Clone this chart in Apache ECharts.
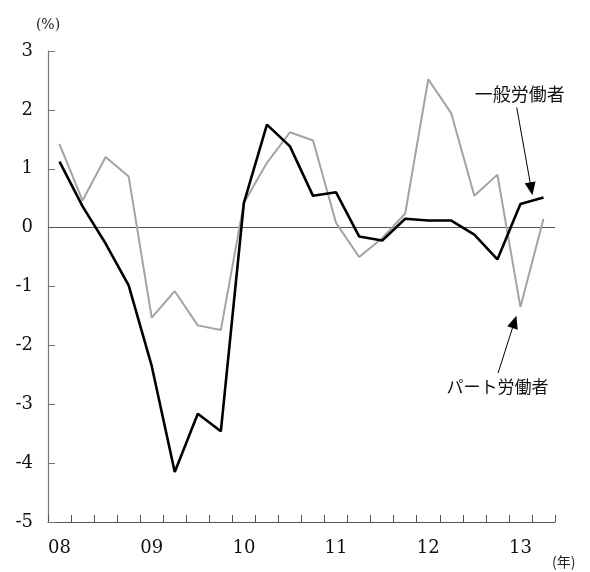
<!DOCTYPE html>
<html>
<head>
<meta charset="utf-8">
<script src="https://cdn.jsdelivr.net/npm/echarts@6/dist/echarts.min.js"></script>
<style>
  html, body { margin: 0; padding: 0; background: #fff; }
  #chart { width: 590px; height: 572px; }
</style>
</head>
<body>
<div id="chart"></div>
<script>
// Quarterly categories, 2008 Q1 – 2013 Q2
const quarters = [
  '08Q1','08Q2','08Q3','08Q4',
  '09Q1','09Q2','09Q3','09Q4',
  '10Q1','10Q2','10Q3','10Q4',
  '11Q1','11Q2','11Q3','11Q4',
  '12Q1','12Q2','12Q3','12Q4',
  '13Q1','13Q2'
];
// Year tick labels shown under the first quarter of each year
const yearLabels = ['08', '09', '10', '11', '12', '13'];

// 一般労働者 (year-on-year change, %)
const generalWorkers = [
  1.12, 0.36, -0.27, -0.98,
  -2.35, -4.15, -3.16, -3.46,
  0.42, 1.75, 1.38, 0.54,
  0.60, -0.15, -0.22, 0.15,
  0.12, 0.12, -0.12, -0.54,
  0.40, 0.51
];
// パート労働者 (year-on-year change, %)
const partTimeWorkers = [
  1.42, 0.46, 1.20, 0.87,
  -1.53, -1.08, -1.66, -1.74,
  0.42, 1.10, 1.62, 1.48,
  0.08, -0.50, -0.18, 0.24,
  2.52, 1.94, 0.54, 0.90,
  -1.35, 0.15
];

const serif = '"DejaVu Serif", "Liberation Serif", serif';
const jp = '"Noto Sans CJK JP", sans-serif';

// Callout anchors in data space (x = quarter index, y = %)
const callouts = [
  { name: '一般労働者', text: [19.97, 2.26], from: [19.84, 2.04], to: [20.47, 0.66], size: 18 },
  { name: 'パート労働者', text: [19.01, -2.70], from: [19.03, -2.47], to: [19.74, -1.60], size: 17 }
];

const chart = echarts.init(document.getElementById('chart'), null, { renderer: 'canvas' });

chart.setOption({
  animation: false,
  backgroundColor: '#fff',
  grid: { left: 48, right: 35, top: 51, bottom: 50, containLabel: false },
  xAxis: [
    {
      type: 'category',
      data: quarters,
      boundaryGap: true,
      name: '(年)',
      nameLocation: 'end',
      nameGap: -3,
      nameTextStyle: {
        fontFamily: jp, fontSize: 14, color: '#222',
        verticalAlign: 'top', align: 'left', padding: [33, 0, 0, 0]
      },
      axisLine: { onZero: false, lineStyle: { color: '#555', width: 1.2 } },
      axisTick: { show: true, inside: true, length: 7, interval: 0, lineStyle: { color: '#555', width: 1 } },
      axisLabel: {
        interval: 3,
        margin: 17,
        fontFamily: serif,
        fontSize: 18,
        color: '#111',
        formatter: function (v, i) { return yearLabels[Math.floor(i / 4)]; }
      },
      splitLine: { show: false }
    },
    {
      // hidden continuous axis over the same span, used to place the callouts
      type: 'value',
      min: -0.5,
      max: 21.5,
      show: false
    }
  ],
  yAxis: {
    type: 'value',
    min: -5,
    max: 3,
    interval: 1,
    name: '(%)',
    nameLocation: 'end',
    nameGap: 19,
    nameTextStyle: { fontFamily: serif, fontSize: 14, color: '#222', align: 'center' },
    axisLine: { show: true, onZero: false, lineStyle: { color: '#777', width: 1.2 } },
    axisTick: { show: true, inside: true, length: 7, lineStyle: { color: '#777', width: 1 } },
    axisLabel: { margin: 15, fontFamily: serif, fontSize: 18, color: '#111' },
    splitLine: { show: false }
  },
  series: [
    {
      name: 'パート労働者',
      type: 'line',
      data: partTimeWorkers,
      symbol: 'none',
      lineStyle: { color: '#a3a3a3', width: 2 },
      z: 3
    },
    {
      name: '一般労働者',
      type: 'line',
      data: generalWorkers,
      symbol: 'none',
      lineStyle: { color: '#000', width: 2.6 },
      z: 4,
      markLine: {
        silent: true,
        symbol: ['none', 'none'],
        label: { show: false },
        lineStyle: { color: '#555', width: 1.2, type: 'solid' },
        data: [{ yAxis: 0 }],
        z: 2
      }
    },
    {
      name: 'callouts',
      type: 'scatter',
      xAxisIndex: 1,
      data: [],
      markLine: {
        silent: true,
        symbol: ['none', 'triangle'],
        symbolSize: [11, 13],
        label: { show: false },
        lineStyle: { color: '#000', width: 1, type: 'solid' },
        data: callouts.map(c => [{ coord: c.from }, { coord: c.to }])
      },
      markPoint: {
        silent: true,
        symbol: 'circle',
        symbolSize: 0,
        label: {
          show: true,
          position: 'inside',
          formatter: '{b}',
          color: '#111',
          fontFamily: jp
        },
        data: callouts.map(c => ({ name: c.name, coord: c.text, label: { fontSize: c.size } }))
      }
    }
  ]
});
</script>
</body>
</html>
